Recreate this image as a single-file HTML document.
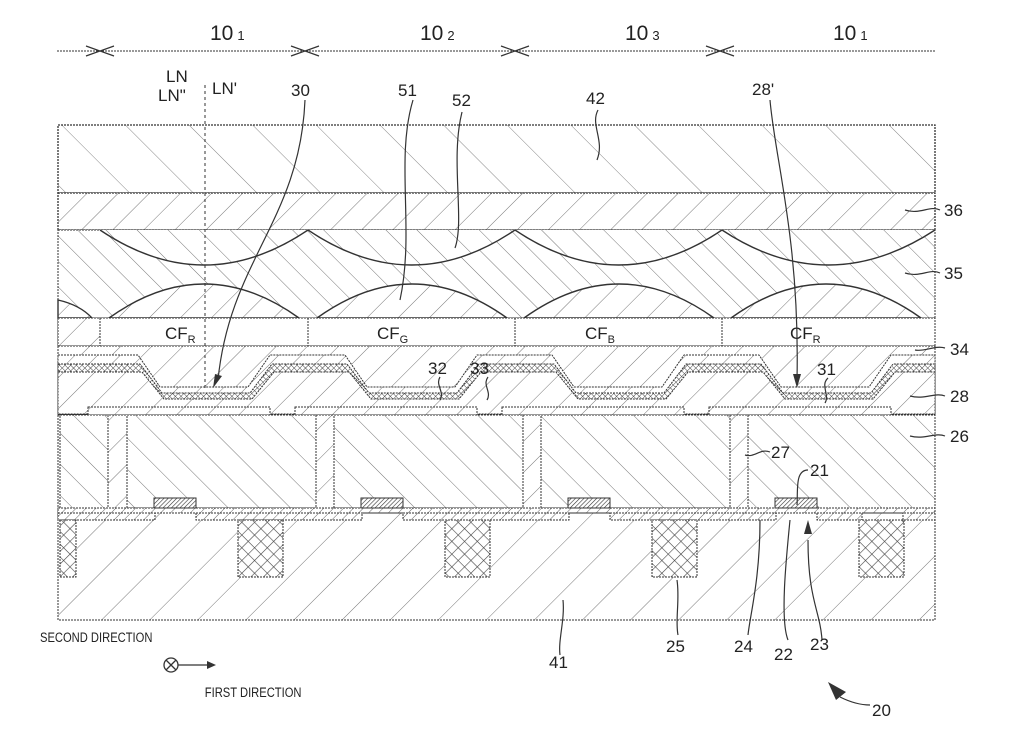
<!DOCTYPE html>
<html><head><meta charset="utf-8"><style>
html,body{margin:0;padding:0;background:#fff}
svg{display:block}
text{font-family:"Liberation Sans",sans-serif;fill:#222}
</style></head><body>
<svg width="1012" height="745" viewBox="0 0 1012 745" xmlns="http://www.w3.org/2000/svg">
<defs>
<pattern id="f" width="22" height="22" patternUnits="userSpaceOnUse" patternTransform="rotate(45)"><rect width="22" height="22" fill="#fff"/><line x1="0" y1="0" x2="0" y2="22" stroke="#777" stroke-width="1"/></pattern>
<pattern id="f2" width="16" height="16" patternUnits="userSpaceOnUse" patternTransform="rotate(45)"><rect width="16" height="16" fill="#fff"/><line x1="0" y1="0" x2="0" y2="16" stroke="#777" stroke-width="1"/></pattern>
<pattern id="fs" width="34" height="34" patternUnits="userSpaceOnUse" patternTransform="rotate(45)"><rect width="34" height="34" fill="#fff"/><line x1="0" y1="0" x2="0" y2="34" stroke="#777" stroke-width="1"/></pattern>
<pattern id="b" width="22" height="22" patternUnits="userSpaceOnUse" patternTransform="rotate(-45)"><rect width="22" height="22" fill="#fff"/><line x1="0" y1="0" x2="0" y2="22" stroke="#777" stroke-width="1"/></pattern>
<pattern id="b2" width="18" height="18" patternUnits="userSpaceOnUse" patternTransform="rotate(-45)"><rect width="18" height="18" fill="#fff"/><line x1="0" y1="0" x2="0" y2="18" stroke="#777" stroke-width="1"/></pattern>
<pattern id="bs" width="45" height="45" patternUnits="userSpaceOnUse" patternTransform="rotate(-45)"><rect width="45" height="45" fill="#fff"/><line x1="0" y1="0" x2="0" y2="45" stroke="#888" stroke-width="1"/></pattern>
<pattern id="fd" width="7" height="7" patternUnits="userSpaceOnUse" patternTransform="rotate(45)"><rect width="7" height="7" fill="#fff"/><line x1="0" y1="0" x2="0" y2="7" stroke="#666" stroke-width="1"/></pattern>
<pattern id="xh" width="9" height="9" patternUnits="userSpaceOnUse" patternTransform="rotate(45)"><rect width="9" height="9" fill="#fff"/><line x1="0" y1="0" x2="0" y2="9" stroke="#444" stroke-width="1.2"/><line x1="0" y1="0" x2="9" y2="0" stroke="#444" stroke-width="1.2"/></pattern>
<pattern id="xs" width="4" height="4" patternUnits="userSpaceOnUse" patternTransform="rotate(45)"><rect width="4" height="4" fill="#fff"/><line x1="0" y1="0" x2="0" y2="4" stroke="#444" stroke-width="1"/><line x1="0" y1="0" x2="4" y2="0" stroke="#444" stroke-width="1"/></pattern>
<pattern id="pd" width="3" height="3" patternUnits="userSpaceOnUse" patternTransform="rotate(45)"><rect width="3" height="3" fill="#fff"/><line x1="0" y1="0" x2="0" y2="3" stroke="#333" stroke-width="1.2"/></pattern>
</defs>
<line x1="57" y1="51" x2="935" y2="51" stroke="#333" stroke-width="1" stroke-dasharray="2,1"/>
<g stroke="#333" stroke-width="1.2" fill="none">
<path d="M86 46 L100 51 L86 56 M114 46 L100 51 L114 56"/>
<path d="M291 46 L305 51 L291 56 M319 46 L305 51 L319 56"/>
<path d="M501 46 L515 51 L501 56 M529 46 L515 51 L529 56"/>
<path d="M706 46 L720 51 L706 56 M734 46 L720 51 L734 56"/>
</g>
<g font-size="21">
<text x="210" y="40">10<tspan font-size="13" dx="4">1</tspan></text>
<text x="420" y="40">10<tspan font-size="13" dx="4">2</tspan></text>
<text x="625" y="40">10<tspan font-size="13" dx="4">3</tspan></text>
<text x="833" y="40">10<tspan font-size="13" dx="4">1</tspan></text>
</g>
<g font-size="17">
<text x="166" y="82">LN</text>
<text x="158" y="101">LN"</text>
<text x="212" y="94">LN'</text>
<text x="291" y="96">30</text>
<text x="398" y="96">51</text>
<text x="452" y="106">52</text>
<text x="586" y="104">42</text>
<text x="752" y="95">28'</text>
</g>
<!-- layer 42 -->
<rect x="58" y="125" width="877" height="68" fill="url(#bs)" stroke="#333" stroke-width="1.3" stroke-dasharray="2,1"/>
<!-- 36 -->
<rect x="58" y="193" width="877" height="37" fill="url(#f)" stroke="#333" stroke-width="1.3" stroke-dasharray="2,1"/>
<!-- 35 -->
<rect x="58" y="230" width="877" height="88" fill="url(#b2)" stroke="#333" stroke-dasharray="2,1"/>
<path d="M58 230 L100 230 Q 204 300 308 230 Q 412 300 515 230 Q 619 300 722 230 Q 828 300 935 230 Z" fill="url(#b)"/>
<path d="M100 230 Q 204 300 308 230 Q 412 300 515 230 Q 619 300 722 230 Q 828 300 935 230" fill="none" stroke="#333" stroke-width="1.4"/>
<g fill="url(#f)" stroke="#333" stroke-width="1.4">
<path d="M109 318 Q 204 250 299 318 Z M317 318 Q 412 250 507 318 Z M524 318 Q 619 250 714 318 Z M731 318 Q 826 250 921 318 Z"/>
<path d="M58 300 Q 80 305 92 318 L58 318 Z"/>
</g>
<!-- CF layer -->
<rect x="58" y="318" width="877" height="28" fill="#fff" stroke="#333" stroke-dasharray="2,1"/>
<rect x="58" y="318" width="42" height="28" fill="url(#f)" stroke="#333" stroke-dasharray="2,1"/>
<g stroke="#333" stroke-dasharray="2,1"><line x1="308" y1="318" x2="308" y2="346"/><line x1="515" y1="318" x2="515" y2="346"/><line x1="722" y1="318" x2="722" y2="346"/></g>
<g font-size="17">
<text x="165" y="339">CF<tspan font-size="11" dy="4">R</tspan></text>
<text x="377" y="339">CF<tspan font-size="11" dy="4">G</tspan></text>
<text x="585" y="339">CF<tspan font-size="11" dy="4">B</tspan></text>
<text x="790" y="339">CF<tspan font-size="11" dy="4">R</tspan></text>
</g>
<!-- layer 28 region -->
<rect x="58" y="346" width="877" height="69" fill="url(#f)" stroke="#333" stroke-dasharray="2,1"/>
<g stroke="#333" stroke-width="1" stroke-dasharray="2,1" stroke-linejoin="round">
<path d="M58 355 L138 355 L160 387 L248 387 L270 355 L345 355 L367 387 L455 387 L477 355 L552 355 L574 387 L662 387 L684 355 L759 355 L781 387 L869 387 L891 355 L935 355 L935 414 L58 414 Z" fill="url(#f2)"/>
<path d="M58 364 L140 364 L162 393 L250 393 L272 364 L347 364 L369 393 L457 393 L479 364 L554 364 L576 393 L664 393 L686 364 L761 364 L783 393 L871 393 L893 364 L935 364 L935 414 L58 414 Z" fill="url(#xs)"/>
<path d="M58 372 L142 372 L164 399 L252 399 L274 372 L349 372 L371 399 L459 399 L481 372 L556 372 L578 399 L666 399 L688 372 L763 372 L785 399 L873 399 L895 372 L935 372 L935 414 L58 414 Z" fill="url(#f)"/>
</g>
<!-- plates 31 -->
<g fill="url(#f)" stroke="#333" stroke-dasharray="2,1">
<rect x="88" y="407" width="182" height="8"/><rect x="295" y="407" width="182" height="8"/><rect x="502" y="407" width="182" height="8"/><rect x="709" y="407" width="182" height="8"/>
</g>
<!-- layer 26 -->
<rect x="58" y="415" width="877" height="93" fill="url(#f)" stroke="#333" stroke-dasharray="2,1"/>
<g fill="url(#b)" stroke="#333" stroke-dasharray="2,1">
<rect x="60" y="415" width="48" height="93"/>
<rect x="127" y="415" width="189" height="93"/>
<rect x="334" y="415" width="189" height="93"/>
<rect x="541" y="415" width="189" height="93"/>
<rect x="748" y="415" width="187" height="93"/>
</g>
<!-- substrate 41 -->
<rect x="58" y="508" width="877" height="112" fill="url(#fs)" stroke="#333" stroke-dasharray="2,1"/>
<path d="M58 508 L935 508 L935 520 L903 520 L903 513 L862 513 L862 520 L817 520 L817 513 L776 513 L776 520 L610 520 L610 513 L569 513 L569 520 L403 520 L403 513 L362 513 L362 520 L196 520 L196 513 L155 513 L155 520 L58 520 Z" fill="url(#fd)" stroke="#333" stroke-dasharray="2,1"/>
<line x1="58" y1="513" x2="935" y2="513" stroke="#333" stroke-dasharray="2,1"/>
<!-- pads 21 -->
<g fill="url(#pd)" stroke="#333">
<rect x="154" y="498" width="42" height="10"/><rect x="361" y="498" width="42" height="10"/><rect x="568" y="498" width="42" height="10"/><rect x="775" y="498" width="42" height="10"/>
</g>
<!-- plugs 25 -->
<g fill="url(#xh)" stroke="#333" stroke-dasharray="2,1">
<rect x="60" y="520" width="16" height="57"/>
<rect x="238" y="520" width="45" height="57"/><rect x="445" y="520" width="45" height="57"/><rect x="652" y="520" width="45" height="57"/><rect x="859" y="520" width="45" height="57"/>
</g>
<line x1="205" y1="85" x2="205" y2="390" stroke="#333" stroke-dasharray="3,3"/>
<g fill="none" stroke="#333" stroke-width="1.2">
<path d="M305 100 C 300 220 230 260 218 380"/>
<path d="M770 100 C 775 160 800 240 797 380"/>
<path d="M413 100 C 395 160 415 230 400 300"/>
<path d="M462 112 C 450 160 465 220 455 248"/>
<path d="M598 110 C 590 125 605 140 597 160"/>
<path d="M822 640 C 820 610 808 600 808 540"/>
<path d="M940 210 C 930 205 920 215 905 210"/>
<path d="M940 273 C 930 268 920 278 905 273"/>
<path d="M945 348 C 935 345 925 352 915 350"/>
<path d="M945 396 C 935 392 925 400 910 396"/>
<path d="M945 436 C 935 432 925 440 910 436"/>
<path d="M770 452 C 760 448 755 458 745 455"/>
<path d="M808 470 C 795 470 798 490 797 505"/>
<path d="M828 378 C 820 385 830 395 825 403"/>
<path d="M440 377 C 435 385 445 392 440 400"/>
<path d="M488 377 C 482 385 492 392 487 400"/>
<path d="M560 655 C 558 640 565 620 563 600"/>
<path d="M678 635 C 675 620 680 600 677 580"/>
<path d="M748 635 C 750 615 760 580 760 520"/>
<path d="M788 640 C 780 620 786 560 790 520"/>
<path d="M870 705 C 860 705 850 702 840 697"/>
<path d="M178 665 L210 665"/>
</g>
<g fill="#333">
<path d="M213 388 L215 374 L222 376 Z"/>
<path d="M797 388 L793 374 L801 374 Z"/>
<path d="M808 520 L804 534 L812 534 Z"/>
<path d="M828 682 L846 692 L836 700 Z"/>
<path d="M216 665 L207 661 L207 669 Z"/>
</g>
<circle cx="171" cy="665" r="7" fill="#fff" stroke="#333" stroke-width="1.3"/>
<path d="M166 660 L176 670 M176 660 L166 670" stroke="#333" stroke-width="1.3"/>
<g font-size="17">
<text x="944" y="216">36</text>
<text x="944" y="279">35</text>
<text x="950" y="355">34</text>
<text x="950" y="402">28</text>
<text x="950" y="442">26</text>
<text x="771" y="458">27</text>
<text x="810" y="476">21</text>
<text x="817" y="375">31</text>
<text x="428" y="374">32</text>
<text x="470" y="374">33</text>
<text x="549" y="668">41</text>
<text x="666" y="652">25</text>
<text x="734" y="652">24</text>
<text x="774" y="660">22</text>
<text x="810" y="650">23</text>
<text x="872" y="716">20</text>
</g>
<g font-size="14" transform="scale(0.8,1)">
<text x="50" y="642">SECOND DIRECTION</text>
<text x="256" y="697">FIRST DIRECTION</text>
</g>
</svg>
</body></html>
